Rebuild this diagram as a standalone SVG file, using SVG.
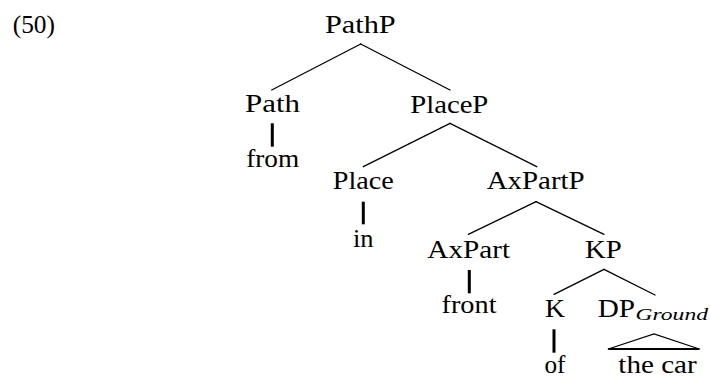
<svg xmlns="http://www.w3.org/2000/svg" width="710" height="376" viewBox="0 0 710 376">
<rect width="710" height="376" fill="#fff"/>
<text id="ex" x="12.7" y="33" font-family="'Liberation Serif', 'DejaVu Serif', serif" font-size="25" textLength="42.3" lengthAdjust="spacingAndGlyphs">(50)</text>
<g id="connectors" stroke="#000" fill="none">
<g stroke-width="1.3" stroke-linecap="round">
<line x1="360.7" y1="44" x2="271.7" y2="90"/>
<line x1="360.7" y1="44" x2="450" y2="90"/>
<line x1="450" y1="123.3" x2="363.3" y2="166.7"/>
<line x1="450" y1="123.3" x2="536.7" y2="166.7"/>
<line x1="536" y1="201.7" x2="468.3" y2="234.3"/>
<line x1="536" y1="201.7" x2="604" y2="234.3"/>
<line x1="604" y1="269.3" x2="554" y2="294.3"/>
<line x1="604" y1="269.3" x2="655" y2="295"/>
<polyline points="608.3,349 654,334 699.3,349"/>
</g>
<g stroke-width="3">
<line x1="272.3" y1="123.3" x2="272.3" y2="146.7"/>
<line x1="363.3" y1="201.7" x2="363.3" y2="224.3"/>
<line x1="469.3" y1="270" x2="469.3" y2="293.3"/>
<line x1="554" y1="329.3" x2="554" y2="352.7"/>
</g>
<line stroke-width="2.2" x1="608.3" y1="349" x2="699.3" y2="349"/>
</g>
<g font-family="'Liberation Serif', 'DejaVu Serif', serif" font-size="25">
<g id="PathP"><text x="325" y="33" textLength="70.7" lengthAdjust="spacingAndGlyphs">PathP</text></g>
<g id="Path"><text x="245" y="112" textLength="55" lengthAdjust="spacingAndGlyphs">Path</text></g>
<g id="from"><text x="246.2" y="167" textLength="53" lengthAdjust="spacingAndGlyphs">from</text></g>
<g id="PlaceP"><text x="410.3" y="112.7" textLength="78" lengthAdjust="spacingAndGlyphs">PlaceP</text></g>
<g id="Place"><text x="332.8" y="189" textLength="61" lengthAdjust="spacingAndGlyphs">Place</text></g>
<g id="in"><text x="353" y="246.7" textLength="20.6" lengthAdjust="spacingAndGlyphs">in</text></g>
<g id="AxPartP"><text x="486.7" y="189" textLength="98" lengthAdjust="spacingAndGlyphs">AxPartP</text></g>
<g id="AxPart"><text x="427.3" y="258.3" textLength="82.7" lengthAdjust="spacingAndGlyphs">AxPart</text></g>
<g id="front"><text x="441.5" y="313.3" textLength="55" lengthAdjust="spacingAndGlyphs">front</text></g>
<g id="KP"><text x="585" y="258.3" textLength="36.7" lengthAdjust="spacingAndGlyphs">KP</text></g>
<g id="K"><text x="545" y="316.7" textLength="20" lengthAdjust="spacingAndGlyphs">K</text></g>
<g id="of"><text x="544.5" y="372.5" textLength="21" lengthAdjust="spacingAndGlyphs">of</text></g>
<g id="DPGround"><text x="597.7" y="316.7" textLength="37.3" lengthAdjust="spacingAndGlyphs">DP</text><text x="635.5" y="320" font-size="17" font-style="italic" textLength="72.5" lengthAdjust="spacingAndGlyphs">Ground</text></g>
<g id="thecar"><text x="618.3" y="372.5" textLength="78.4" lengthAdjust="spacingAndGlyphs">the car</text></g>
</g>
</svg>
